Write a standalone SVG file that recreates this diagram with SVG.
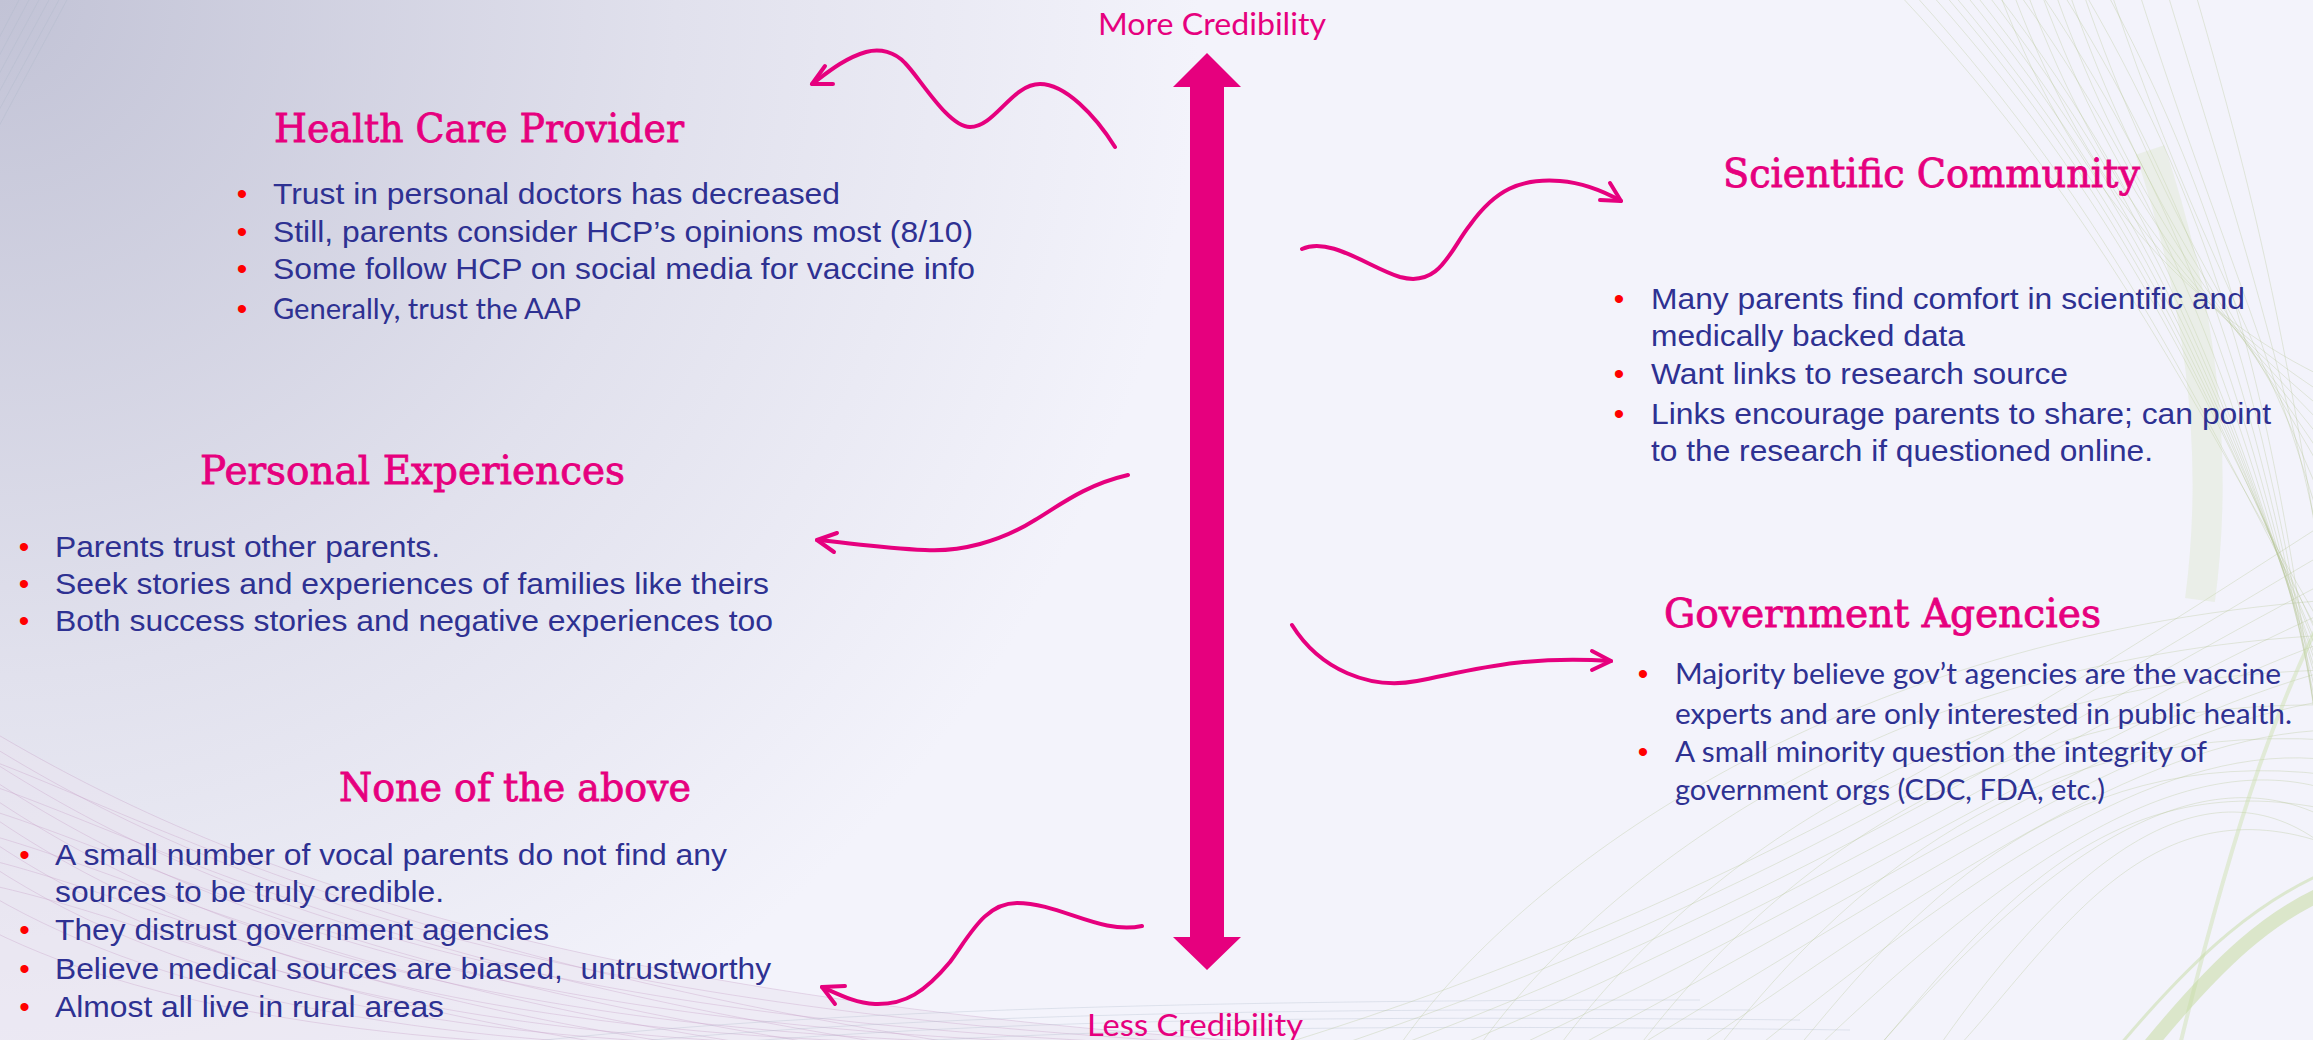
<svg xmlns="http://www.w3.org/2000/svg" width="2313" height="1040" viewBox="0 0 2313 1040">
<defs>
<radialGradient id="bg" gradientUnits="userSpaceOnUse" cx="0" cy="0" r="1500">
<stop offset="0" stop-color="#c2c3d6"/>
<stop offset="0.45" stop-color="#e1e1ed"/>
<stop offset="0.8" stop-color="#f3f3fb"/>
<stop offset="1" stop-color="#f3f3fb"/>
</radialGradient>
<style>
.t{font-family:"DejaVu Serif","Liberation Serif",serif;font-size:39px;fill:#e6007e;stroke:#e6007e;stroke-width:0.8px}
.b{font-family:"Liberation Sans",Arial,sans-serif;font-size:30px;fill:#2e3192}
.c{font-family:Lato,"Open Sans",sans-serif;font-size:29px;fill:#2e3192}
.d{font-family:"Liberation Sans",Arial,sans-serif;font-size:30px;fill:#ff0000;text-anchor:middle}
.ax{font-family:Lato,"Open Sans",sans-serif;font-size:30px;fill:#e6007e}
.w{fill:none;stroke:#e6007e;stroke-width:4;stroke-linecap:round;stroke-linejoin:round}
.pk{fill:none;stroke:#c59fc6;stroke-width:1;stroke-opacity:.35}
.gr{fill:none;stroke:#aebf8a;stroke-width:1;stroke-opacity:.3}
.gy{fill:none;stroke:#a9b6c8;stroke-width:1;stroke-opacity:.3}
</style>
</defs>
<g id="background">
<rect width="2313" height="1040" fill="url(#bg)"/>
<g class="gy">
<path d="M20 -2 L-2 40"/><path d="M30 -2 L-2 58"/><path d="M40 -2 L-2 76"/><path d="M50 -2 L-2 94"/><path d="M60 -2 L-2 112"/><path d="M68 -2 L-2 128"/>
</g>
<path d="M-10 730 C250 885 600 1000 1300 1045 L-10 1045 Z" fill="#e9e3f0" fill-opacity=".5"/>
<g class="pk">
<path d="M-10 730 C250 885 600 1000 1300 1045"/>
<path d="M-10 745 C240 900 580 1010 1240 1045"/>
<path d="M-10 760 C230 915 560 1020 1180 1045"/>
<path d="M-10 778 C220 930 540 1028 1120 1045"/>
<path d="M-10 796 C210 945 520 1035 1060 1045"/>
<path d="M-10 815 C200 960 500 1040 1000 1045"/>
<path d="M-10 840 C190 975 480 1045 940 1048"/>
<path d="M-10 865 C180 990 460 1048 880 1048"/>
<path d="M-10 895 C170 1000 440 1050 820 1050"/>
<path d="M-10 930 C160 1015 420 1050 760 1050"/>
<path d="M-10 760 C150 820 400 960 1000 1050"/>
<path d="M-10 785 C150 840 380 968 930 1050"/>
<path d="M-10 810 C150 860 360 976 860 1050"/>
<path d="M-10 835 C150 880 340 984 790 1050"/>
<path d="M-10 860 C150 900 320 992 720 1050"/>
<path d="M-10 885 C150 920 300 1000 650 1050"/>
</g>
<g class="gy">
<path d="M500 1045 C800 1010 1200 1000 1700 1000"/>
<path d="M600 1045 C900 1015 1250 1008 1750 1010"/>
<path d="M700 1045 C1000 1020 1300 1015 1800 1020"/>
<path d="M800 1048 C1100 1028 1350 1024 1850 1030"/>
</g>
<g class="gr">
<path d="M1900 -5 C2110 220 2200 420 2330 640"/>
<path d="M1915 -5 C2118 220 2206 420 2330 655"/>
<path d="M1932 -5 C2132 220 2218 420 2330 662"/>
<path d="M1945 -5 C2138 220 2222 420 2330 676"/>
<path d="M1954 -5 C2144 220 2226 420 2330 684"/>
<path d="M1966 -5 C2150 220 2230 420 2330 697"/>
<path d="M1976 -5 C2156 220 2234 420 2330 706"/>
<path d="M1988 -5 C2162 220 2238 420 2330 718"/>
<path d="M1998 -5 C2168 220 2242 420 2330 728"/>
<path d="M2020 -5 C2180 220 2250 420 2330 750"/>
<path d="M2042 -5 C2192 220 2258 420 2330 772"/>
<path d="M2064 -5 C2204 220 2266 420 2330 794"/>
<path d="M2086 -5 C2216 220 2274 420 2330 816"/>
<path d="M2108 -5 C2228 220 2282 420 2330 838"/>
<path d="M2000 -5 C2080 200 2200 320 2330 380"/>
<path d="M2014 -5 C2092 200 2206 320 2330 398"/>
<path d="M2028 -5 C2105 200 2212 320 2330 415"/>
<path d="M2042 -5 C2118 200 2218 320 2330 432"/>
<path d="M2056 -5 C2130 200 2224 320 2330 450"/>
<path d="M2070 -5 C2142 200 2230 320 2330 468"/>
<path d="M2084 -5 C2155 200 2236 320 2330 485"/>
<path d="M2112 -5 C2180 200 2248 320 2330 520"/>
<path d="M2140 -5 C2205 200 2260 320 2330 555"/>
<path d="M2168 -5 C2230 200 2272 320 2330 590"/>
<path d="M2196 -5 C2255 200 2284 320 2330 625"/>
<path d="M1280 1045 C1750 900 2050 700 2330 520"/>
<path d="M1340 1045 C1780 895 2065 705 2330 550"/>
<path d="M1400 1045 C1810 890 2080 710 2330 580"/>
<path d="M1460 1045 C1840 885 2095 715 2330 610"/>
<path d="M1520 1045 C1870 880 2110 720 2330 640"/>
<path d="M1580 1045 C1900 875 2125 725 2330 670"/>
<path d="M1640 1045 C1930 870 2140 730 2330 700"/>
<path d="M1700 1045 C1960 865 2155 735 2330 730"/>
<path d="M1760 1045 C1990 860 2170 740 2330 760"/>
<path d="M1820 1045 C2020 855 2185 745 2330 790"/>
<path d="M1880 1045 C2050 850 2200 750 2330 820"/>
<path d="M1940 1045 C2080 845 2215 755 2330 850"/>
<path d="M1400 1045 C1500 900 1800 640 2330 600"/>
<path d="M1480 1045 C1580 905 1850 660 2330 635"/>
<path d="M1560 1045 C1660 910 1900 680 2330 670"/>
<path d="M1640 1045 C1740 915 1950 700 2330 705"/>
<path d="M1720 1045 C1820 920 2000 720 2330 740"/>
<path d="M1800 1045 C1900 925 2050 740 2330 775"/>
<path d="M1880 1045 C1980 930 2100 760 2330 810"/>
<path d="M1960 1045 C2060 935 2150 780 2330 845"/>
</g>
<path d="M2150 1045 C2220 960 2270 915 2330 890" fill="none" stroke="#c6dba3" stroke-width="14" stroke-opacity=".55"/>
<path d="M2120 1045 C2200 950 2260 900 2330 870" fill="none" stroke="#c6dba3" stroke-width="3" stroke-opacity=".5"/>
<path d="M2330 600 C2280 700 2240 800 2180 1045" fill="none" stroke="#c6dba3" stroke-width="4" stroke-opacity=".4"/>
<path d="M2150 150 C2200 300 2220 450 2200 600" fill="none" stroke="#cfe0b0" stroke-width="30" stroke-opacity=".25"/>
</g>

<g id="axis">
<polygon points="1207,53 1241,87 1224,87 1224,937 1241,937 1207,970 1173,937 1190,937 1190,87 1173,87" fill="#e6007e"/>
<text class="ax" x="1098" y="35" textLength="228" lengthAdjust="spacingAndGlyphs">More Credibility</text>
<text class="ax" x="1087" y="1036" textLength="216" lengthAdjust="spacingAndGlyphs">Less Credibility</text>
</g>

<g id="connectors">
<path class="w" d="M1115 147 C1095 115 1065 84 1040 84 C1012 84 995 127 970 127 C948 127 920 78 905 63 C895 52 880 48 866 52 C845 58 828 72 812 84"/>
<polyline class="w" points="825,66 812,84 833,84"/>
<path class="w" d="M1302 249 C1330 236 1370 268 1400 277 C1440 288 1450 250 1470 225 C1495 190 1520 178 1560 181 C1585 183 1605 192 1621 201"/>
<polyline class="w" points="1610,183 1621,201 1600,200"/>
<path class="w" d="M1128 475 C1085 485 1060 505 1035 520 C1000 542 960 552 925 550 C880 548 850 543 817 540"/>
<polyline class="w" points="837,533 817,540 834,552"/>
<path class="w" d="M1292 625 C1320 670 1370 690 1417 681 C1470 671 1520 655 1611 661"/>
<polyline class="w" points="1592,651 1611,661 1592,670"/>
<path class="w" d="M1142 926 C1100 935 1060 903 1017 903 C985 903 970 935 950 962 C925 992 905 1005 875 1004 C855 1003 838 994 822 987"/>
<polyline class="w" points="845,986 822,987 835,1004"/>
</g>

<g id="health-care-provider">
<text class="t" x="274" y="142" textLength="410" lengthAdjust="spacingAndGlyphs">Health Care Provider</text>
<text class="d" x="242" y="204">•</text>
<text class="b" x="273" y="204" textLength="567" lengthAdjust="spacingAndGlyphs">Trust in personal doctors has decreased</text>
<text class="d" x="242" y="241.5">•</text>
<text class="b" x="273" y="241.5" textLength="700" lengthAdjust="spacingAndGlyphs">Still, parents consider HCP’s opinions most (8/10)</text>
<text class="d" x="242" y="278.5">•</text>
<text class="b" x="273" y="278.5" textLength="702" lengthAdjust="spacingAndGlyphs">Some follow HCP on social media for vaccine info</text>
<text class="d" x="242" y="318.5">•</text>
<text class="c" x="273" y="318.5" textLength="308" lengthAdjust="spacingAndGlyphs">Generally, trust the AAP</text>
</g>

<g id="personal-experiences">
<text class="t" x="200" y="484" textLength="425" lengthAdjust="spacingAndGlyphs">Personal Experiences</text>
<text class="d" x="24" y="557">•</text>
<text class="b" x="55" y="557" textLength="385" lengthAdjust="spacingAndGlyphs">Parents trust other parents.</text>
<text class="d" x="24" y="594">•</text>
<text class="b" x="55" y="594" textLength="714" lengthAdjust="spacingAndGlyphs">Seek stories and experiences of families like theirs</text>
<text class="d" x="24" y="631">•</text>
<text class="b" x="55" y="631" textLength="718" lengthAdjust="spacingAndGlyphs">Both success stories and negative experiences too</text>
</g>

<g id="none-of-the-above">
<text class="t" x="339" y="801" textLength="352" lengthAdjust="spacingAndGlyphs">None of the above</text>
<text class="d" x="24.5" y="865">•</text>
<text class="b" x="55" y="865" textLength="672" lengthAdjust="spacingAndGlyphs">A small number of vocal parents do not find any</text>
<text class="b" x="55" y="902" textLength="389" lengthAdjust="spacingAndGlyphs">sources to be truly credible.</text>
<text class="d" x="24.5" y="940">•</text>
<text class="b" x="55" y="940" textLength="494" lengthAdjust="spacingAndGlyphs">They distrust government agencies</text>
<text class="d" x="24.5" y="979">•</text>
<text class="b" x="55" y="979" textLength="716" lengthAdjust="spacingAndGlyphs" style="white-space:pre">Believe medical sources are biased,  untrustworthy</text>
<text class="d" x="24.5" y="1017">•</text>
<text class="b" x="55" y="1017" textLength="389" lengthAdjust="spacingAndGlyphs">Almost all live in rural areas</text>
</g>

<g id="scientific-community">
<text class="t" x="1723" y="187" textLength="417" lengthAdjust="spacingAndGlyphs">Scientific Community</text>
<text class="d" x="1619" y="309">•</text>
<text class="b" x="1651" y="309" textLength="594" lengthAdjust="spacingAndGlyphs">Many parents find comfort in scientific and</text>
<text class="b" x="1651" y="346" textLength="314" lengthAdjust="spacingAndGlyphs">medically backed data</text>
<text class="d" x="1619" y="384">•</text>
<text class="b" x="1651" y="384" textLength="417" lengthAdjust="spacingAndGlyphs">Want links to research source</text>
<text class="d" x="1619" y="424">•</text>
<text class="b" x="1651" y="424" textLength="620" lengthAdjust="spacingAndGlyphs">Links encourage parents to share; can point</text>
<text class="b" x="1651" y="461" textLength="502" lengthAdjust="spacingAndGlyphs">to the research if questioned online.</text>
</g>

<g id="government-agencies">
<text class="t" x="1664" y="627" textLength="437" lengthAdjust="spacingAndGlyphs">Government Agencies</text>
<text class="d" x="1643" y="684">•</text>
<text class="c" x="1675" y="684" textLength="606" lengthAdjust="spacingAndGlyphs">Majority believe gov’t agencies are the vaccine</text>
<text class="c" x="1675" y="724" textLength="617" lengthAdjust="spacingAndGlyphs">experts and are only interested in public health.</text>
<text class="d" x="1643" y="762">•</text>
<text class="c" x="1675" y="762" textLength="532" lengthAdjust="spacingAndGlyphs">A small minority question the integrity of</text>
<text class="c" x="1675" y="800" textLength="430" lengthAdjust="spacingAndGlyphs">government orgs (CDC, FDA, etc.)</text>
</g>
</svg>
